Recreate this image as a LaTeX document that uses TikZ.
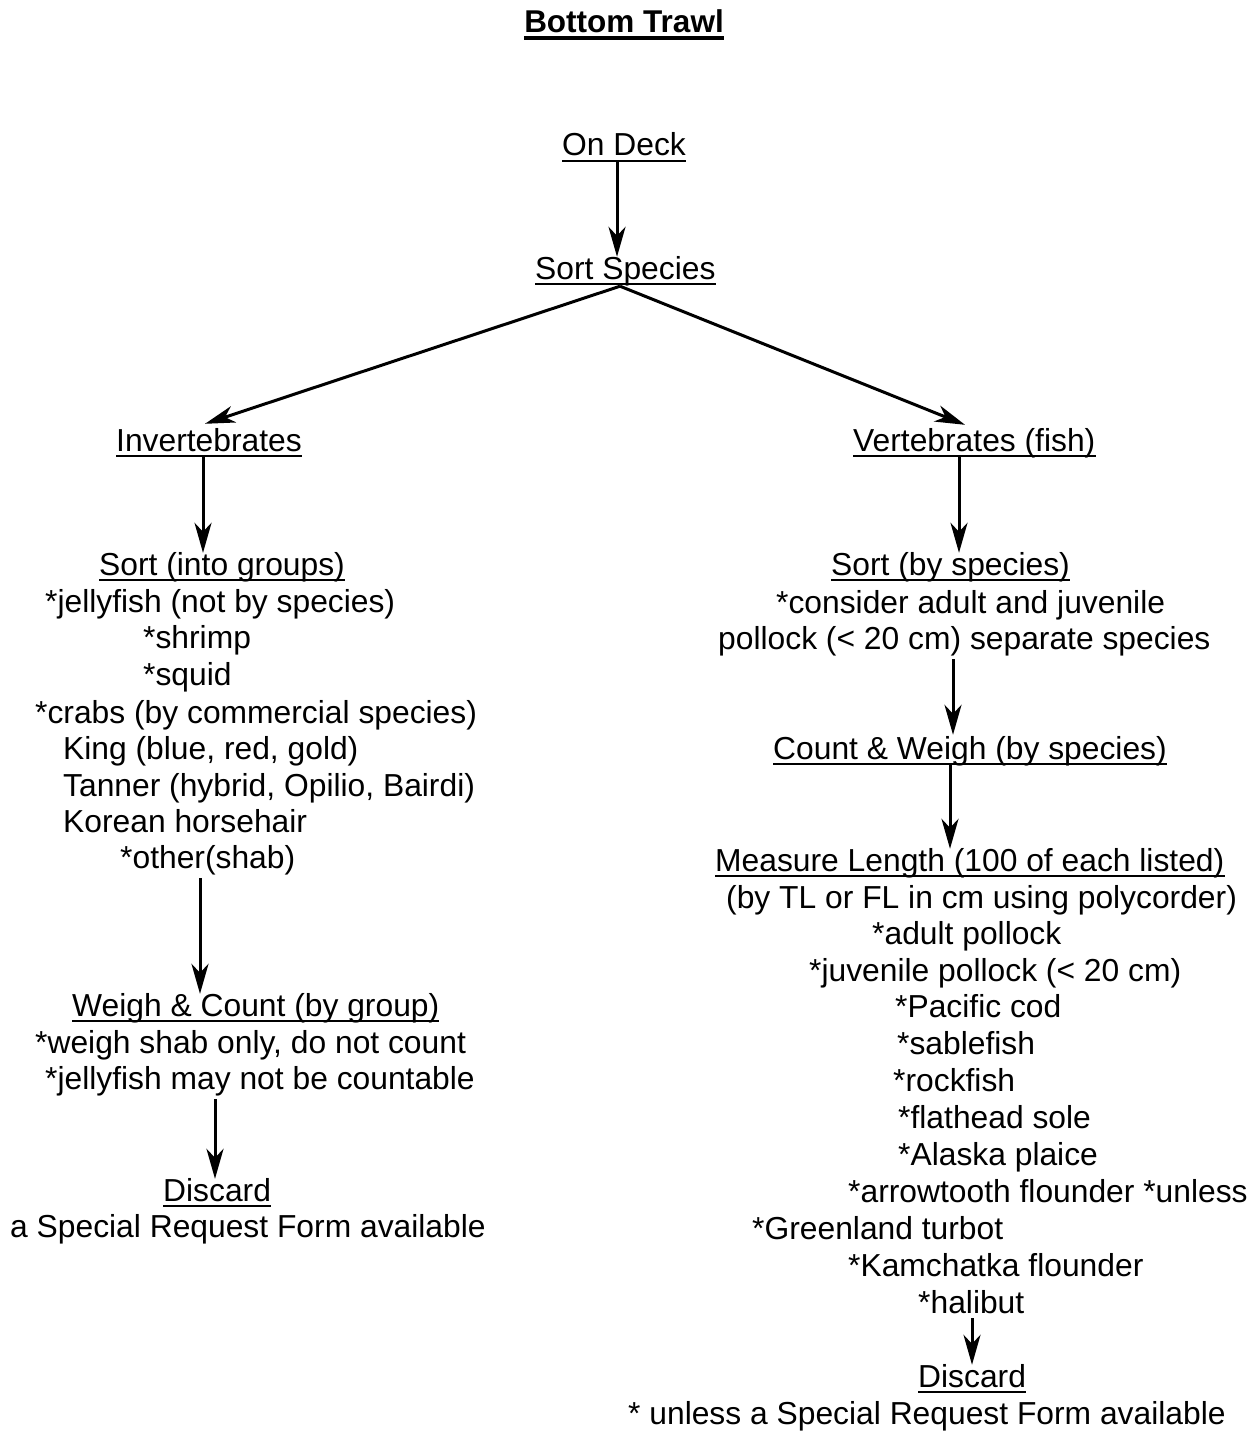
\documentclass[tikz,border=0pt]{standalone}
\usepackage{fontspec}
\setmainfont{Liberation Sans}
\usetikzlibrary{arrows.meta}
\begin{document}
\begin{tikzpicture}[x=1pt,y=-1pt,
  txt/.style={anchor=base west,inner sep=0pt,text height=22pt,text depth=0pt,font=\fontsize{31.8}{37}\selectfont},
  ttl/.style={anchor=base,inner sep=0pt,text height=22pt,text depth=0pt,font=\fontsize{31.5}{37}\selectfont\bfseries},
  arr/.style={line width=3pt,-{Stealth[length=30pt,width=17pt,inset=9pt]}},
  ul/.style={line width=2.2pt}]
\useasboundingbox[fill=white] (0,0) rectangle (1255,1431);
% title
\node[ttl] (title) at (624,33) {Bottom Trawl};
\draw[line width=3.2pt] ([yshift=-5pt]title.base west) -- ([yshift=-5pt]title.base east);
% headings
\node[txt] (ondeck) at (562,156) {On Deck};
\node[txt] (sortsp) at (535,279) {Sort Species};
\node[txt] (inv) at (116,451) {Invertebrates};
\node[txt] (vert) at (853,451) {Vertebrates (fish)};
\node[txt] (sortinto) at (99,575) {Sort (into groups)};
\node[txt] (sortby) at (831,575) {Sort (by species)};
\node[txt] (cw) at (773,759) {Count \& Weigh (by species)};
\node[txt] (ml) at (715,871) {Measure Length (100 of each listed)};
\node[txt] (weigh) at (72,1016) {Weigh \& Count (by group)};
\node[txt] (disc1) at (163,1201) {Discard};
\node[txt] (disc2) at (918,1387) {Discard};
\foreach \n in {ondeck,sortsp,inv,vert,sortinto,sortby,cw,ml,weigh,disc1,disc2}
  \draw[ul] ([yshift=-5pt]\n.base west) -- ([yshift=-5pt]\n.base east);
% left texts
\node[txt] (jelly) at (45,612) {*jellyfish (not by species)};
\node[txt] (shrimp) at (143,648) {*shrimp};
\node[txt] (squid) at (143,685) {*squid};
\node[txt] (crabs) at (35,723) {*crabs (by commercial species)};
\node[txt] (king) at (63,759) {King (blue, red, gold)};
\node[txt] (tanner) at (63,796) {Tanner (hybrid, Opilio, Bairdi)};
\node[txt] (korean) at (63,832) {Korean horsehair};
\node[txt] (other) at (120,868) {*other(shab)};
\node[txt] (ws) at (35,1053) {*weigh shab only, do not count};
\node[txt] (jm) at (45,1089) {*jellyfish may not be countable};
\node[txt] (srf1) at (10,1237) {a Special Request Form available};
% right texts
\node[txt] (consider) at (776,613) {*consider adult and juvenile};
\node[txt] (pollock) at (718,649) {pollock (< 20 cm) separate species};
\node[txt] (tl) at (726,908) {(by TL or FL in cm using polycorder)};
\node[txt] (ap) at (872,944) {*adult pollock};
\node[txt] (jp) at (809,981) {*juvenile pollock (< 20 cm)};
\node[txt] (pc) at (895,1017) {*Pacific cod};
\node[txt] (sf) at (897,1054) {*sablefish};
\node[txt] (rf) at (893,1091) {*rockfish};
\node[txt] (fs) at (898,1128) {*flathead sole};
\node[txt] (akp) at (898,1165) {*Alaska plaice};
\node[txt] (at) at (848,1202) {*arrowtooth flounder *unless};
\node[txt] (gt) at (752,1239) {*Greenland turbot};
\node[txt] (kf) at (848,1276) {*Kamchatka flounder};
\node[txt] (hal) at (918,1313) {*halibut};
\node[txt] (srf2) at (628,1424) {* unless a Special Request Form available};
% arrows
\draw[arr] ([yshift=-6pt]ondeck.south -| 617,0) -- (sortsp.north -| 617,0);
\draw[arr] ([yshift=-7pt]sortsp.south -| 620,0) -- ([yshift=5pt]inv.north -| 205,0);
\draw[arr] ([yshift=-7pt]sortsp.south -| 620,0) -- ([yshift=4pt]vert.north -| 965,0);
\draw[arr] ([yshift=-6pt]inv.south -| 203,0) -- (sortinto.north -| 203,0);
\draw[arr] ([yshift=-6pt]vert.south -| 959,0) -- (sortby.north -| 959,0);
\draw[arr] ([yshift=-10pt]pollock.south -| 953,0) -- ([yshift=2pt]cw.north -| 953,0);
\draw[arr] ([yshift=-6pt]cw.south -| 950,0) -- (ml.north -| 950,0);
\draw[arr] ([yshift=-10pt]other.south -| 200,0) -- (weigh.north -| 200,0);
\draw[arr] ([yshift=-10pt]jm.south -| 215,0) -- (disc1.north -| 215,0);
\draw[arr] ([yshift=-5pt]hal.south -| 972,0) -- (disc2.north -| 972,0);
\end{tikzpicture}
\end{document}
